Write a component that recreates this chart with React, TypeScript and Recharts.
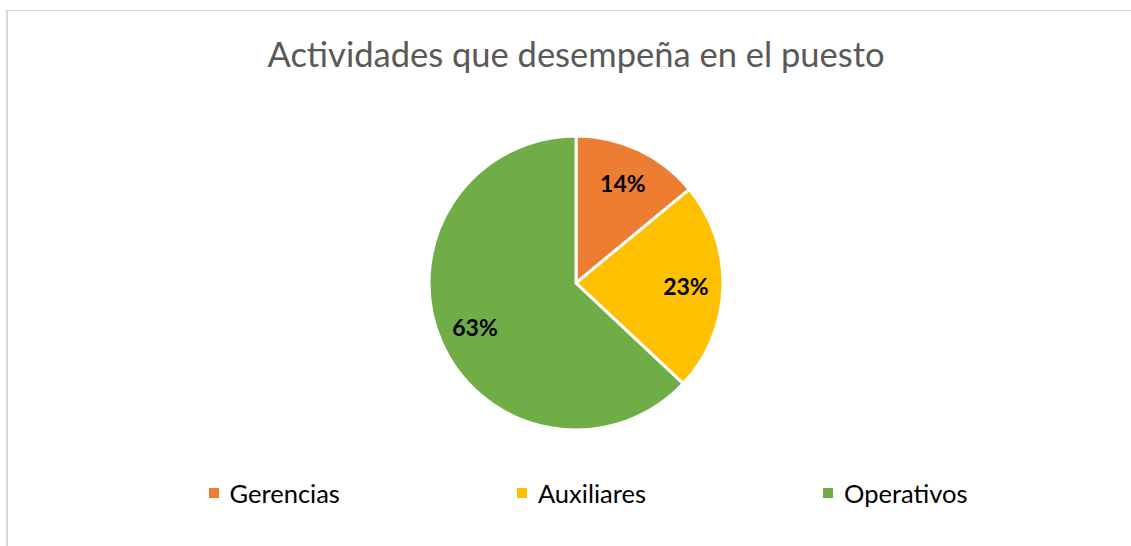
import { PieChart, Pie, Cell } from "recharts";

const categories = ["Gerencias", "Auxiliares", "Operativos"];
const percents = [14, 23, 63];
const colors = ["#ED7D31", "#FFC000", "#70AD47"];

const data = categories.map((name, i) => ({ name, value: percents[i], fill: colors[i] }));

const FONT = "Lato, 'Open Sans', sans-serif";
const RAD = Math.PI / 180;

const renderLabel = (props: any) => {
  const { cx, cy, midAngle, value } = props;
  const r = 110;
  const x = cx + r * Math.cos(-midAngle * RAD);
  const y = cy + r * Math.sin(-midAngle * RAD);
  return (
    <text
      x={x}
      y={y}
      fill="#000"
      textAnchor="middle"
      dominantBaseline="central"
      fontFamily={FONT}
      fontWeight={700}
      fontSize={23}
    >
      {`${value}%`}
    </text>
  );
};

const LegendBox = () => (
  <div
    style={{
      position: "absolute",
      top: 476,
      left: 0,
      width: 1131,
      display: "flex",
      justifyContent: "center",
      gap: 177,
      fontFamily: FONT,
      fontSize: 25.5,
      lineHeight: "34px",
      color: "#000",
      paddingLeft: 45,
      boxSizing: "border-box",
    }}
  >
    {data.map((d) => (
      <div key={d.name} style={{ display: "flex", alignItems: "center" }}>
        <span style={{ width: 10, height: 10, background: d.fill, marginRight: 11 }} />
        <span>{d.name}</span>
      </div>
    ))}
  </div>
);

export default function App() {
  return (
    <div style={{ position: "absolute", left: 0, top: 0, width: 1131, height: 546, overflow: "hidden", background: "#fff" }}>
      <div style={{ position: "absolute", left: 6, top: 10, width: 1125, height: 1, background: "#d9d9d9" }} />
      <div style={{ position: "absolute", left: 6, top: 10, width: 2, height: 536, background: "#d9d9d9" }} />
      <div
        style={{
          position: "absolute",
          top: 31,
          left: 0,
          width: 1152,
          textAlign: "center",
          fontFamily: FONT,
          fontSize: 34.5,
          lineHeight: "46px",
          color: "#595959",
        }}
      >
        Actividades que desempeña en el puesto
      </div>
      <div style={{ position: "absolute", left: 0, top: 0 }}>
        <PieChart width={1131} height={546} margin={{ top: 0, right: 0, bottom: 0, left: 0 }}>
          <Pie
            data={data}
            dataKey="value"
            nameKey="name"
            cx={576}
            cy={283}
            outerRadius={147}
            startAngle={90}
            endAngle={-270}
            stroke="#fff"
            strokeWidth={3}
            label={renderLabel}
            labelLine={false}
            isAnimationActive={false}
          >
            {data.map((d) => (
              <Cell key={d.name} fill={d.fill} />
            ))}
          </Pie>
        </PieChart>
      </div>
      <LegendBox />
    </div>
  );
}
